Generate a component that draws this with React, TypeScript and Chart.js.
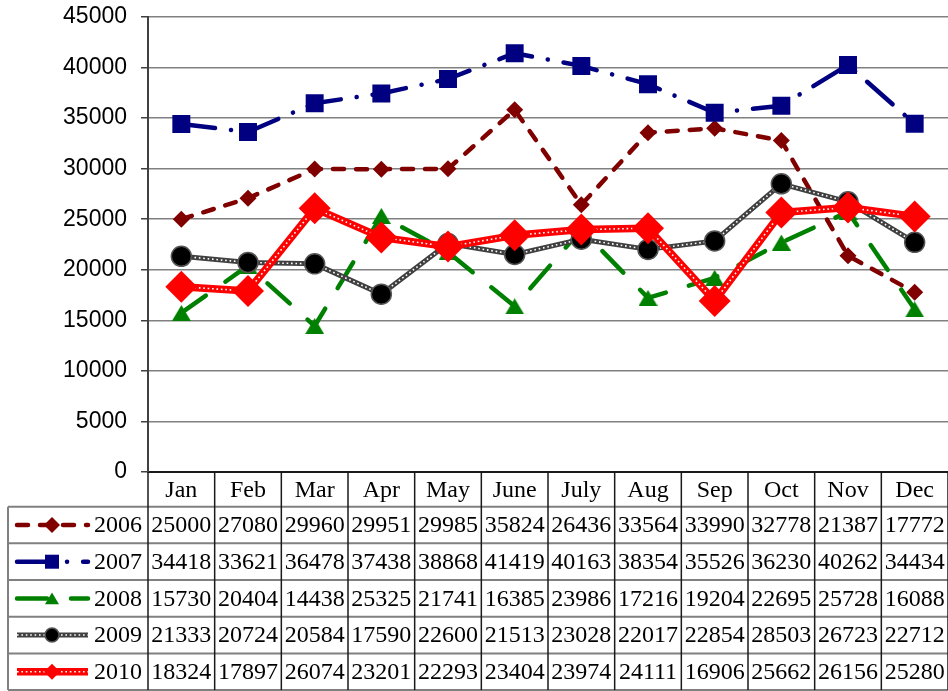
import { useEffect, useRef } from 'react';
import { Chart, registerables } from 'chart.js';
Chart.register(...registerables);

const months = ['Jan', 'Feb', 'Mar', 'Apr', 'May', 'June', 'July', 'Aug', 'Sep', 'Oct', 'Nov', 'Dec'];
const years = ['2006', '2007', '2008', '2009', '2010'];
const s2006 = [25000, 27080, 29960, 29951, 29985, 35824, 26436, 33564, 33990, 32778, 21387, 17772];
const s2007 = [34418, 33621, 36478, 37438, 38868, 41419, 40163, 38354, 35526, 36230, 40262, 34434];
const s2008 = [15730, 20404, 14438, 25325, 21741, 16385, 23986, 17216, 19204, 22695, 25728, 16088];
const s2009 = [21333, 20724, 20584, 17590, 22600, 21513, 23028, 22017, 22854, 28503, 26723, 22712];
const s2010 = [18324, 17897, 26074, 23201, 22293, 23404, 23974, 24111, 16906, 25662, 26156, 25280];
const yMin = 0;
const yMax = 45000;
const yStep = 5000;

const W = 948;
const H = 691;
const PLOT_LEFT = 148;
const PLOT_TOP = 17;
const PLOT_BOTTOM = 472;
const HEADER_H = 34.7;
const ROW_H = 36.67;
const TABLE_LEFT = 8;

function makeTriangle(w: number, h: number, color: string) {
  const c = document.createElement('canvas');
  c.width = w;
  c.height = h;
  const g = c.getContext('2d')!;
  g.fillStyle = color;
  g.beginPath();
  g.moveTo(w / 2, 0);
  g.lineTo(w, h);
  g.lineTo(0, h);
  g.closePath();
  g.fill();
  return c;
}

type Style = {
  color: string;
  width: number;
  dash: number[];
  overlay: boolean;
  marker: string;
  mColor: string;
  mBorder?: string;
  legendSize: number;
};

const styles: Style[] = [
  { color: '#800000', width: 4.5, dash: [11, 12], overlay: false, marker: 'diamond', mColor: '#800000', legendSize: 8 },
  { color: '#000080', width: 4.5, dash: [34, 16, 0.1, 16], overlay: false, marker: 'square', mColor: '#000080', legendSize: 7 },
  { color: '#008000', width: 4.5, dash: [30, 24], overlay: false, marker: 'triangle', mColor: '#008000', legendSize: 7 },
  { color: '#404040', width: 5, dash: [], overlay: true, marker: 'circle', mColor: '#000000', mBorder: '#555555', legendSize: 7 },
  { color: '#ff0000', width: 7.5, dash: [], overlay: true, marker: 'diamond', mColor: '#ff0000', legendSize: 8 },
];

function drawMarker(ctx: CanvasRenderingContext2D, st: Style, x: number, y: number, r: number) {
  ctx.save();
  ctx.setLineDash([]);
  ctx.fillStyle = st.mColor;
  ctx.beginPath();
  if (st.marker === 'diamond') {
    ctx.moveTo(x - r, y);
    ctx.lineTo(x, y - r);
    ctx.lineTo(x + r, y);
    ctx.lineTo(x, y + r);
    ctx.closePath();
  } else if (st.marker === 'square') {
    ctx.rect(x - r, y - r, 2 * r, 2 * r);
  } else if (st.marker === 'triangle') {
    ctx.moveTo(x, y - r * 0.85);
    ctx.lineTo(x + r, y + r * 0.85);
    ctx.lineTo(x - r, y + r * 0.85);
    ctx.closePath();
  } else {
    ctx.arc(x, y, r, 0, Math.PI * 2);
  }
  ctx.fill();
  if (st.mBorder) {
    ctx.strokeStyle = st.mBorder;
    ctx.lineWidth = 1.5;
    ctx.stroke();
  }
  ctx.restore();
}

const seriesList = [s2006, s2007, s2008, s2009, s2010];

const tablePlugin = {
  id: 'dataTable',
  afterDraw(chart: any) {
    const ctx: CanvasRenderingContext2D = chart.ctx;
    const xs = chart.scales.x;
    const area = chart.chartArea;
    const colW = (area.right - area.left) / months.length;
    const headerBottom = area.bottom + HEADER_H;
    const tableBottom = headerBottom + ROW_H * years.length;
    ctx.save();
    ctx.strokeStyle = '#808080';
    ctx.lineWidth = 2;
    for (let i = 0; i <= years.length; i++) {
      const y = headerBottom + i * ROW_H;
      ctx.beginPath();
      ctx.moveTo(TABLE_LEFT, y);
      ctx.lineTo(area.right, y);
      ctx.stroke();
    }
    ctx.beginPath();
    ctx.moveTo(TABLE_LEFT, headerBottom);
    ctx.lineTo(TABLE_LEFT, tableBottom);
    ctx.stroke();
    ctx.strokeStyle = '#1a1a1a';
    ctx.lineWidth = 1.5;
    for (let k = 0; k <= months.length; k++) {
      const x = area.left + k * colW;
      ctx.beginPath();
      ctx.moveTo(x, area.bottom);
      ctx.lineTo(x, tableBottom);
      ctx.stroke();
    }
    ctx.fillStyle = '#000';
    ctx.font = '24px "Liberation Serif"';
    ctx.textBaseline = 'middle';
    seriesList.forEach((vals, i) => {
      const cy = headerBottom + i * ROW_H + ROW_H / 2;
      ctx.textAlign = 'center';
      vals.forEach((v, j) => {
        ctx.fillText(String(v), xs.getPixelForValue(j), cy + 1);
      });
      ctx.textAlign = 'left';
      ctx.fillText(years[i], 94, cy + 1);
      const st = styles[i];
      ctx.save();
      ctx.strokeStyle = st.color;
      ctx.lineWidth = st.width;
      ctx.lineCap = st.dash.length ? 'round' : 'butt';
      ctx.setLineDash(st.dash);
      ctx.beginPath();
      ctx.moveTo(17, cy);
      ctx.lineTo(88, cy);
      ctx.stroke();
      if (st.overlay) {
        ctx.strokeStyle = '#ffffff';
        ctx.lineWidth = 1.6;
        ctx.lineCap = 'butt';
        ctx.setLineDash([1.6, 2.8]);
        ctx.beginPath();
        ctx.moveTo(17, cy);
        ctx.lineTo(88, cy);
        ctx.stroke();
      }
      ctx.restore();
      drawMarker(ctx, st, 52, cy, st.legendSize);
    });
    ctx.restore();
  },
};

export default function App() {
  const ref = useRef<HTMLCanvasElement>(null);
  useEffect(() => {
    const tri = makeTriangle(19, 16, '#008000');
    const lineDs = (data: number[], st: Style, order: number, withPoints: boolean, pointStyle: any, radius: number) => ({
      label: '',
      data,
      borderColor: st.color,
      borderWidth: st.width,
      borderDash: st.dash,
      borderCapStyle: st.dash.length ? 'round' : 'butt',
      borderJoinStyle: 'round',
      tension: 0,
      fill: false,
      pointStyle,
      pointRadius: withPoints ? radius : 0,
      pointBackgroundColor: st.mColor,
      pointBorderColor: st.mBorder || st.mColor,
      pointBorderWidth: st.mBorder ? 1.5 : 0,
      order,
    });
    const overlayDs = (data: number[], order: number) => ({
      label: '',
      data,
      borderColor: '#ffffff',
      borderWidth: 1.6,
      borderDash: [1.6, 2.8],
      borderCapStyle: 'butt',
      tension: 0,
      fill: false,
      pointRadius: 0,
      order,
    });
    const pointsDs = (data: number[], st: Style, order: number, pointStyle: any, radius: number) => ({
      label: '',
      data,
      showLine: false,
      pointStyle,
      pointRadius: radius,
      pointBackgroundColor: st.mColor,
      pointBorderColor: st.mBorder || st.mColor,
      pointBorderWidth: st.mBorder ? 1.5 : 0,
      order,
    });
    const datasets: any[] = [
      lineDs(s2006, styles[0], 90, true, 'rectRot', 8.5),
      lineDs(s2007, styles[1], 80, true, 'rect', 12.7),
      lineDs(s2008, styles[2], 70, true, tri, 10),
      lineDs(s2009, styles[3], 60, false, 'circle', 0),
      overlayDs(s2009, 55),
      pointsDs(s2009, styles[3], 50, 'circle', 10),
      lineDs(s2010, styles[4], 40, false, 'rectRot', 0),
      overlayDs(s2010, 35),
      pointsDs(s2010, styles[4], 30, 'rectRot', 16),
    ];
    const chart = new Chart(ref.current!, {
      type: 'line',
      data: { labels: months, datasets },
      options: {
        responsive: false,
        animation: false,
        events: [],
        layout: { autoPadding: false, padding: { top: PLOT_TOP, left: 0, right: 0, bottom: 0 } },
        plugins: { legend: { display: false }, tooltip: { enabled: false }, title: { display: false } },
        scales: {
          x: {
            type: 'category',
            offset: true,
            grid: { display: false, drawTicks: false },
            border: { display: true, color: '#1a1a1a', width: 2 },
            ticks: {
              color: '#000',
              font: { family: 'Liberation Serif', size: 24 },
              padding: 4,
              autoSkip: false,
              maxRotation: 0,
            },
            afterFit: (s: any) => {
              s.height = H - PLOT_BOTTOM;
              s.paddingLeft = 0;
              s.paddingRight = 0;
            },
          },
          y: {
            min: yMin,
            max: yMax,
            grid: { color: '#808080', lineWidth: 1.5, tickLength: 7, tickColor: '#404040' },
            border: { display: true, color: '#404040', width: 2 },
            ticks: {
              stepSize: yStep,
              color: '#000',
              font: { family: 'Liberation Sans', size: 23 },
              padding: 14,
              callback: (v: any) => String(v),
            },
            afterFit: (s: any) => {
              s.width = PLOT_LEFT;
              s.paddingTop = 0;
              s.paddingBottom = 0;
            },
          },
        },
      },
      plugins: [tablePlugin],
    } as any);
    return () => chart.destroy();
  }, []);
  return (
    <div style={{ position: 'fixed', left: 0, top: 0, width: W, height: H, background: '#fff' }}>
      <canvas ref={ref} width={W} height={H} style={{ display: 'block' }} />
    </div>
  );
}
